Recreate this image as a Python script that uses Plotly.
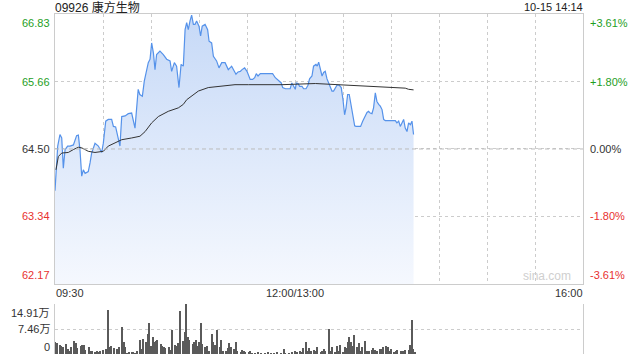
import plotly.graph_objects as go

# ---- data ----
title_text = "09926 康方生物"
stamp_text = "10-15 14:14"
prev_close = 64.50
y_ticks = [62.17, 63.34, 64.50, 65.66, 66.83]
y_tick_labels = ["62.17", "63.34", "64.50", "65.66", "66.83"]
pct_tick_labels = ["-3.61%", "-1.80%", "0.00%", "+1.80%", "+3.61%"]
x_tick_minutes = [0, 150, 330]
x_tick_labels = ["09:30", "12:00/13:00", "16:00"]
vol_ticks = [0, 7.455, 14.91]
vol_tick_labels = ["0", "7.46万", "14.91万"]

price_t = [0, 1.7, 3.1, 4.2, 5.2, 6.3, 7.9, 9.4, 11.5, 13.5, 14.6, 15.6, 16.7, 17.7, 18.8, 20.8, 21.9, 22.9, 25, 27.1,
           29.2, 30.2, 31.7, 33.3, 35.4, 36.5, 37.9, 39.6, 40.6, 41.7, 43.8, 45.8, 47.9, 50, 51, 52, 53, 54.6, 55.8, 57.3,
           58.3, 59.4, 60.4, 61.5, 62.5, 63.5, 65.6, 67.7, 69.8, 71.9, 72.9, 74.6, 76, 77.5, 78.8, 80.2, 81.3, 82.3, 83.3, 84.4,
           85.4, 86.5, 87.5, 88.5, 90, 91, 92, 93.8, 95.4, 96.3, 97.9, 99, 101, 102.5, 104.2, 106.3, 108.3, 110.4, 111.6, 113.1,
           114.4, 115.8, 116.9, 118.5, 120, 121, 122, 123.5, 124.8, 125.8, 126.9, 128.3, 130.4, 132.5, 134.6, 136, 137.7, 139.8, 141.4, 142.3,
           144, 146, 147, 148, 149.1, 150.2, 150.8, 151.9, 152.9, 154.4, 155.4, 156.9, 158.1, 159.1, 160.6, 161.6, 163.1, 163.9, 164.8, 165.8,
           166.9, 167.9, 168.9, 170, 171, 172, 173.1, 174.1, 175.2, 176.2, 177.7, 178.9, 180, 181, 181.9, 182.9, 183.9, 185, 186, 187.3,
           188.1, 189.8, 191, 192.3, 193.5, 195, 196, 197, 198.1, 199.1, 200.2, 201.2, 202.3, 203.3, 204.4, 205.4, 206.4, 208.5, 210.6, 212.7,
           213.7, 214.8, 215.8, 216.9, 217.9, 218.9, 220, 221, 222.1, 223.1, 224.1]
price = [63.78, 64.55, 64.75, 64.69, 64.17, 64.49, 64.55, 64.55, 64.57, 64.73, 64.74, 64.49, 64.03, 64.14, 64.08, 64.11, 64.26, 64.43, 64.60, 64.55,
         64.44, 64.60, 64.98, 65.01, 65.01, 64.89, 64.88, 64.66, 64.55, 65.06, 65.07, 65.11, 65.12, 64.86, 65.18, 65.53, 65.44, 65.41, 65.67, 65.84,
         65.99, 66.05, 66.33, 66.16, 65.87, 66.13, 66.19, 66.13, 66.05, 66.02, 65.84, 65.99, 65.93, 65.56, 65.96, 65.93, 66.56, 66.68, 66.56, 66.71,
         66.81, 66.65, 66.65, 66.71, 66.62, 66.45, 66.62, 66.65, 66.56, 66.36, 66.33, 66.10, 66.02, 65.90, 65.99, 65.99, 65.87, 65.93, 65.87, 65.79,
         65.83, 65.84, 65.87, 65.90, 65.84, 65.76, 65.70, 65.70, 65.73, 65.80, 65.76, 65.80, 65.80, 65.80, 65.80, 65.80, 65.73, 65.67, 65.64, 65.56,
         65.54, 65.54, 65.54, 65.64, 65.58, 65.53, 65.64, 65.63, 65.58, 65.58, 65.54, 65.54, 65.60, 65.71, 65.76, 65.93, 65.96, 65.93, 66.00, 65.90,
         65.76, 65.82, 65.84, 65.71, 65.64, 65.58, 65.50, 65.50, 65.56, 65.60, 65.60, 65.56, 65.35, 65.09, 65.21, 65.44, 65.44, 65.24, 65.06, 64.90,
         64.89, 64.89, 64.89, 64.98, 65.05, 65.13, 65.15, 65.12, 65.11, 65.21, 65.47, 65.32, 65.27, 65.24, 65.18, 65.01, 64.99, 64.99, 64.99, 64.99,
         64.95, 64.98, 64.89, 64.95, 65.01, 64.86, 64.80, 64.95, 64.92, 64.98, 64.75]

avg_t = [0.6, 2.1, 4.2, 8.3, 11.5, 14.6, 16.7, 20.8, 25, 30.2, 33.3, 37.5, 41.7, 47.9, 53.1, 56.3, 60.4, 64.6, 70.8, 77.1,
         80.2, 82.3, 85.4, 89.6, 95.8, 102.1, 112.5, 121, 141.9, 162.7, 179.4, 194, 210.6, 218.9, 221, 224.1]
avg_price = [64.14, 64.37, 64.43, 64.44, 64.49, 64.53, 64.52, 64.46, 64.44, 64.46, 64.55, 64.61, 64.66, 64.69, 64.72, 64.80, 64.95, 65.06, 65.15, 65.21,
             65.27, 65.35, 65.42, 65.50, 65.56, 65.58, 65.61, 65.61, 65.61, 65.63, 65.61, 65.58, 65.56, 65.55, 65.53, 65.52]

vol_t = [0, 1, 3, 4, 5, 7, 8, 9, 10, 12, 13, 14, 16, 17, 18, 19, 21, 22, 23, 25,
         26, 27, 28, 30, 32, 33, 34, 35, 37, 39, 40, 42, 43, 44, 45, 46, 48, 49, 50, 51,
         53, 54, 55, 57, 58, 59, 60, 61, 62, 63, 64, 66, 67, 68, 69, 71, 72, 73, 75, 76,
         77, 78, 80, 81, 82, 83, 84, 86, 87, 88, 89, 90, 91, 92, 94, 95, 96, 98, 99, 100,
         101, 103, 104, 105, 107, 108, 109, 110, 112, 113, 114, 116, 117, 118, 119, 121, 122, 123, 125, 127,
         129, 131, 133, 135, 137, 139, 141, 143, 144, 146, 148, 150, 151, 153, 154, 155, 157, 158, 159, 160,
         162, 163, 164, 166, 167, 168, 169, 171, 172, 173, 175, 176, 177, 178, 180, 181, 182, 183, 184, 185,
         186, 187, 189, 190, 191, 192, 194, 195, 196, 198, 199, 200, 201, 203, 204, 205, 207, 208, 209, 210,
         212, 213, 214, 216, 217, 218, 219, 221, 222, 223, 224, 225]
vol = [3.5, 3.2, 2.8, 2.5, 2.0, 3.0, 1.5, 1.0, 2.0, 3.8, 3.4, 1.8, 2.5, 2.8, 2.8, 1.2, 2.2, 1.0, 0.8, 0.5,
       1.0, 0.5, 0.8, 1.2, 1.5, 13.2, 2.0, 2.5, 1.8, 1.5, 2.0, 8.1, 3.5, 2.0, 0.2, 0.3, 0.5, 0.3, 0.2, 1.0,
       4.3, 1.5, 4.6, 3.5, 6.1, 9.3, 2.5, 5.1, 3.5, 3.9, 4.1, 3.0, 2.5, 2.2, 1.8, 2.0, 1.2, 7.1, 2.8, 2.5,
       3.2, 12.9, 3.9, 6.6, 14.91, 5.1, 4.1, 3.0, 3.5, 4.1, 2.5, 3.5, 9.1, 3.0, 2.0, 2.5, 1.0, 5.9, 3.5, 2.8,
       7.3, 2.0, 4.1, 1.0, 1.0, 1.8, 3.2, 2.0, 1.5, 3.5, 1.0, 0.5, 1.2, 1.0, 0.5, 0.3, 1.0, 0.2, 0.2, 0.3,
       0.2, 0.2, 0.3, 0.2, 0.2, 0.3, 0.2, 1.5, 0.2, 0.2, 0.3, 1.0, 0.5, 1.0, 0.5, 1.8, 3.5, 1.0, 1.8, 0.8,
       1.2, 1.0, 2.2, 0.7, 1.0, 1.5, 0.8, 7.4, 1.0, 2.0, 0.5, 2.5, 1.0, 2.8, 0.5, 2.2, 1.8, 3.5, 5.1, 3.5,
       2.5, 5.8, 2.0, 3.2, 1.0, 2.0, 3.9, 1.0, 0.8, 1.2, 1.8, 1.2, 0.8, 1.5, 1.5, 2.2, 2.5, 2.0, 1.0, 1.5,
       0.5, 1.0, 1.2, 0.8, 1.0, 1.0, 1.2, 1.3, 2.8, 10.1, 1.5, 0.5]

# ---- styles ----
FONT = "Liberation Sans, Arial, Noto Sans CJK SC, sans-serif"
GREEN = "#1e9e1e"
RED = "#e8312f"
DARK = "#333333"
GRID = "#cccccc"
label_colors = [RED, RED, DARK, GREEN, GREEN]

fig = go.Figure()

fig.add_trace(go.Scatter(
    x=price_t, y=price, mode="lines", xaxis="x", yaxis="y",
    line=dict(color="#5592ea", width=1.2),
    fill="tozeroy",
    fillgradient=dict(type="vertical", start=y_ticks[0], stop=y_ticks[-1],
                      colorscale=[[0, "rgba(245,248,254,1)"], [1, "rgba(198,217,247,1)"]]),
    hoverinfo="skip", showlegend=False))

fig.add_trace(go.Scatter(
    x=avg_t, y=avg_price, mode="lines", xaxis="x", yaxis="y",
    line=dict(color="#333333", width=1), hoverinfo="skip", showlegend=False))

fig.add_trace(go.Bar(
    x=vol_t, y=vol, xaxis="x2", yaxis="y2", width=0.7,
    marker=dict(color="#5a5a5a", line=dict(width=0)), hoverinfo="skip", showlegend=False))

grid_x = list(range(0, 331, 30))

fig.update_layout(
    width=640, height=360,
    margin=dict(l=55, r=57, t=14, b=6),
    paper_bgcolor="white", plot_bgcolor="rgba(0,0,0,0)",
    font=dict(family=FONT, size=11, color=DARK),
    bargap=0,
    xaxis=dict(domain=[0, 1], range=[0, 330], tickvals=grid_x, showticklabels=False,
               showgrid=True, gridcolor=GRID, griddash="dot", gridwidth=1,
               showline=True, linecolor=GRID, mirror=True, zeroline=False, anchor="y"),
    yaxis=dict(domain=[0.206, 1], range=[y_ticks[0], y_ticks[-1]], tickvals=y_ticks,
               showticklabels=False, showgrid=True, gridcolor=GRID, griddash="dot",
               showline=True, linecolor=GRID, mirror=True, zeroline=False, anchor="x"),
    xaxis2=dict(domain=[0, 1], range=[0, 330], showticklabels=False, showgrid=False,
                showline=False, zeroline=False, anchor="y2"),
    yaxis2=dict(domain=[0, 0.147], range=[0, 14.91], tickvals=vol_ticks, showticklabels=False,
                showgrid=True, gridcolor=GRID, griddash="dot", gridwidth=1,
                showline=True, linecolor=GRID, mirror=True, zeroline=False, anchor="x2"),
)

# previous close dashed line
fig.add_shape(type="line", xref="x", yref="y", x0=0, x1=330, y0=prev_close, y1=prev_close,
              line=dict(color="#bbbbbb", width=1, dash="4px,3px"))

ann = []
n = len(y_ticks)
for i, (v, lab, pl, c) in enumerate(zip(y_ticks, y_tick_labels, pct_tick_labels, label_colors)):
    ya = "bottom" if i == 0 else ("top" if i == n - 1 else "middle")
    ys = 1 if i == 0 else (-1 if i == n - 1 else 0)
    ann.append(dict(xref="paper", yref="y", x=0, y=v, text=lab, xanchor="right", yanchor=ya,
                    xshift=-3, yshift=ys, showarrow=False, font=dict(color=c, size=11)))
    ann.append(dict(xref="paper", yref="y", x=1, y=v, text=pl, xanchor="left", yanchor=ya,
                    xshift=5, yshift=ys, showarrow=False, font=dict(color=c, size=11)))

for i, (v, lab) in enumerate(zip(vol_ticks, vol_tick_labels)):
    ya = "bottom" if i == 0 else ("top" if i == len(vol_ticks) - 1 else "middle")
    ys = -1 if i == 0 else (-1 if i == len(vol_ticks) - 1 else 0)
    ann.append(dict(xref="paper", yref="y2", x=0, y=v, text=lab, xanchor="right", yanchor=ya,
                    xshift=-3, yshift=ys, showarrow=False, font=dict(color=DARK, size=11)))

xa = ["left", "center", "right"]
xs = [-1, 0, 2]
for m, lab, a, s in zip(x_tick_minutes, x_tick_labels, xa, xs):
    ann.append(dict(xref="x", yref="y", x=m, y=y_ticks[0], text=lab, xanchor=a, yanchor="top",
                    xshift=s, yshift=-1, showarrow=False, font=dict(color=DARK, size=11)))

ann.append(dict(xref="paper", yref="paper", x=0, y=1, text=title_text, xanchor="left", yanchor="middle",
                xshift=-2, yshift=7, showarrow=False, font=dict(color="#222222", size=12)))
ann.append(dict(xref="paper", yref="paper", x=1, y=1, text=stamp_text, xanchor="right", yanchor="middle",
                xshift=2, yshift=7, showarrow=False, font=dict(color="#222222", size=11)))
ann.append(dict(xref="x", yref="y", x=324, y=y_ticks[0], text="sina.com", xanchor="right", yanchor="bottom",
                yshift=-1, showarrow=False, font=dict(color="#cfcfcf", size=12)))

fig.update_layout(annotations=ann)
fig.write_html("out.html")
